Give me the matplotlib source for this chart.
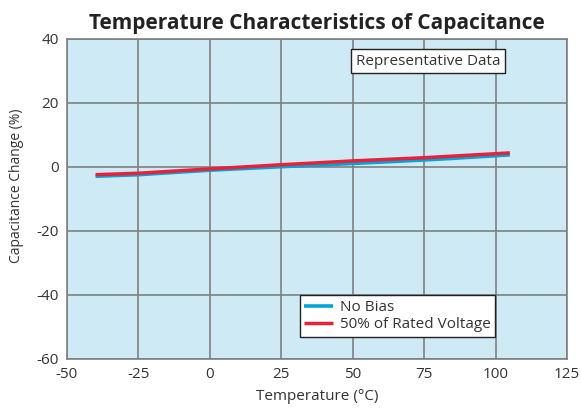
import matplotlib
matplotlib.use("Agg")
import matplotlib.pyplot as plt

temps = [-40, -25, 0, 25, 50, 75, 85, 105]
no_bias = [-2.9, -2.4, -1.0, 0.1, 1.1, 2.2, 2.7, 3.8]
rated_50 = [-2.4, -1.95, -0.6, 0.7, 1.9, 2.9, 3.4, 4.4]
x_ticks = [-50, -25, 0, 25, 50, 75, 100, 125]
y_ticks = [-60, -40, -20, 0, 20, 40]

plt.rcParams['font.family'] = ['Open Sans', 'DejaVu Sans']
plt.rcParams['axes.unicode_minus'] = False

fig = plt.figure(figsize=(5.81, 4.08), dpi=100)
ax = fig.add_axes([67/581, 1-359/408, 500/581, 320/408])
ax.set_facecolor('#cdeaf5')
ax.set_xlim(-50, 125)
ax.set_ylim(-60, 40)
ax.set_xticks(x_ticks)
ax.set_yticks(y_ticks)
ax.grid(True, color='#808080', linewidth=1.2)
ax.set_axisbelow(True)
for s in ax.spines.values():
    s.set_color('#7f7f7f')
    s.set_linewidth(1.2)
ax.tick_params(length=0, labelsize=11, colors='#333333', pad=6)

ax.plot(temps, no_bias, color='#00a5d8', linewidth=2.6, label='No Bias', solid_capstyle='butt')
ax.plot(temps, rated_50, color='#e8203a', linewidth=2.5, label='50% of Rated Voltage', solid_capstyle='butt')

leg = ax.legend(loc='lower right', bbox_to_anchor=(0.856, 0.069), fancybox=False,
                framealpha=1, edgecolor='#222222', fontsize=11, handlelength=1.9,
                handletextpad=0.4, borderpad=0.3, labelspacing=0.15, borderaxespad=0)
leg.get_frame().set_linewidth(1.0)
for t in leg.get_texts():
    t.set_color('#333333')

ax.text(0.866, 0.931, 'Representative Data', transform=ax.transAxes, ha='right', va='center',
        fontsize=11, color='#333333',
        bbox=dict(boxstyle='square,pad=0.3', facecolor='white', edgecolor='#222222', linewidth=1.0))

ax.set_title('Temperature Characteristics of Capacitance', fontsize=15, fontweight='bold',
             color='#222222', pad=7)
ax.set_xlabel('Temperature (°C)', fontsize=11, color='#333333', labelpad=5)
ax.set_ylabel('Capacitance Change (%)', fontsize=10, color='#333333')
ax.yaxis.set_label_coords(-0.086, 0.54)

fig.savefig('out.png', dpi=100)
